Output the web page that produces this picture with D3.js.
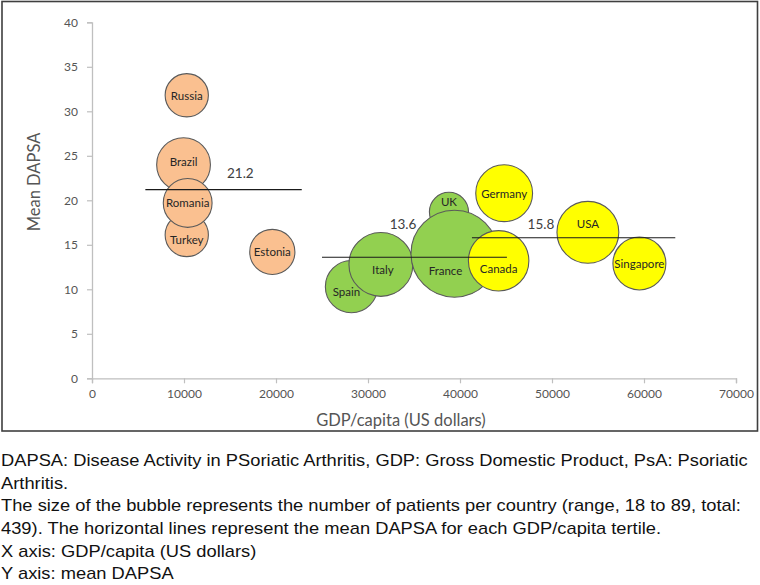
<!DOCTYPE html>
<html><head><meta charset="utf-8">
<script src="https://cdn.jsdelivr.net/npm/d3@7"></script>
<style>body{margin:0;background:#fff}svg{display:block}</style></head>
<body><svg id="c" width="760" height="585"></svg>
<script>
// ---- data ----
const countries = ["Russia","Brazil","Turkey","Romania","Estonia","Spain","Italy","UK","France","Germany","Canada","USA","Singapore"];
const gdpPerCapita = [10300, 9950, 10300, 10400, 19600, 28200, 31400, 38800, 39400, 44800, 44200, 53900, 59500];
const meanDapsa = [31.8, 24.0, 16.1, 19.7, 14.2, 10.3, 12.8, 18.7, 14.0, 20.8, 13.2, 16.4, 12.9];
const patients = [22, 34, 22, 28, 24, 32, 48, 18, 89, 38, 43, 45, 33];
const tertile = [0,0,0,0,0,1,1,1,1,2,2,2,2];
const tertileMeans = [21.2, 13.6, 15.8];
const tertileLineFrom = [5800, 25000, 41300];
const tertileLineTo = [22800, 45100, 63400];
const xTicks = [0,10000,20000,30000,40000,50000,60000,70000];
const yTicks = [0,5,10,15,20,25,30,35,40];
const captionLines = [
  "DAPSA: Disease Activity in PSoriatic Arthritis, GDP: Gross Domestic Product, PsA: Psoriatic",
  "Arthritis.",
  "The size of the bubble represents the number of patients per country (range, 18 to 89, total:",
  "439). The horizontal lines represent the mean DAPSA for each GDP/capita tertile.",
  "X axis: GDP/capita (US dollars)",
  "Y axis: mean DAPSA"
];

// ---- layout / style ----
const tertileColors = ["#FAC090", "#92D050", "#FFFF00"];
const labelNudge = {Brazil:[0,-3], Turkey:[0,4], Spain:[-5,5], Italy:[2,5], UK:[0,-10], France:[-9,17], Canada:[0,8], USA:[0,-9]};
const meanLabelOffset = [[95,-16.5],[81,-33],[69,-14]];
const chartFont = "Lato, 'Open Sans', sans-serif";

const svg = d3.select("#c");
const x = d3.scaleLinear().domain([0,70000]).range([92,736]);
const y = d3.scaleLinear().domain([0,40]).range([378.3,22.3]);
const r = d3.scaleSqrt().domain([0,89]).range([0,43.5]);

// frame
svg.append("rect").attr("x",2).attr("y",1.5).attr("width",755.5).attr("height",429.5)
  .attr("fill","#fff").attr("stroke","#3f3f3f").attr("stroke-width",1.6);

// axes
const axisColor = "#BFBFBF";
const gx = svg.append("g").attr("transform",`translate(0,${y(0)})`)
  .call(d3.axisBottom(x).tickValues(xTicks).tickFormat(d3.format("d")).tickSize(5).tickPadding(6));
const gy = svg.append("g").attr("transform",`translate(${x(0)},0)`)
  .call(d3.axisLeft(y).tickValues(yTicks).tickSize(5).tickPadding(9));
[gx,gy].forEach(g=>{
  g.select(".domain").attr("stroke",axisColor).attr("stroke-width",1.3);
  g.selectAll(".tick line").attr("stroke",axisColor).attr("stroke-width",1.2);
  g.selectAll(".tick text").attr("fill","#555").style("font-family",chartFont).style("font-size","12px");
});

// axis titles
svg.append("text").attr("x",401).attr("y",426).attr("text-anchor","middle")
  .style("font-family",chartFont).style("font-size","16.5px").attr("fill","#555")
  .text("GDP/capita (US dollars)");
svg.append("text").attr("transform","translate(40,182) rotate(-90)").attr("text-anchor","middle")
  .style("font-family",chartFont).style("font-size","16.5px").attr("fill","#555")
  .text("Mean DAPSA");

// bubbles
const rows = countries.map((c,i)=>({c, gdp:gdpPerCapita[i], dapsa:meanDapsa[i], n:patients[i], t:tertile[i]}));
svg.append("g").selectAll("circle").data(rows).join("circle")
  .attr("cx",d=>x(d.gdp)).attr("cy",d=>y(d.dapsa)).attr("r",d=>r(d.n))
  .attr("fill",d=>tertileColors[d.t]).attr("stroke","#5a5a5a").attr("stroke-width",1.1);

// tertile mean lines
const lines = tertileMeans.map((m,i)=>({m, from:tertileLineFrom[i], to:tertileLineTo[i], i}));
svg.append("g").selectAll("line").data(lines).join("line")
  .attr("x1",d=>x(d.from)).attr("x2",d=>x(d.to)).attr("y1",d=>y(d.m)).attr("y2",d=>y(d.m))
  .attr("stroke","#1a1a1a").attr("stroke-width",1.1);
svg.append("g").selectAll("text").data(lines).join("text")
  .attr("x",d=>x(d.from)+meanLabelOffset[d.i][0]).attr("y",d=>y(d.m)+meanLabelOffset[d.i][1])
  .attr("text-anchor","middle").attr("dominant-baseline","central")
  .style("font-family",chartFont).style("font-size","13.5px").attr("fill","#404040")
  .text(d=>d.m.toFixed(1));

// bubble labels
svg.append("g").selectAll("text").data(rows).join("text")
  .attr("x",d=>x(d.gdp)+((labelNudge[d.c]||[0,0])[0]))
  .attr("y",d=>y(d.dapsa)+((labelNudge[d.c]||[0,0])[1]))
  .attr("text-anchor","middle").attr("dominant-baseline","central")
  .style("font-family",chartFont).style("font-size","11.5px").attr("fill","#262626")
  .text(d=>d.c);

// caption (slightly wide-set glyphs as in the source)
svg.append("g").attr("transform","translate(1,0) scale(1.145,1)")
  .selectAll("text").data(captionLines).join("text")
  .attr("x",0).attr("y",(d,i)=>466+i*22.7)
  .style("font-family","'Liberation Sans', Arial, sans-serif").style("font-size","16px").attr("fill","#111")
  .text(d=>d);
</script></body></html>
